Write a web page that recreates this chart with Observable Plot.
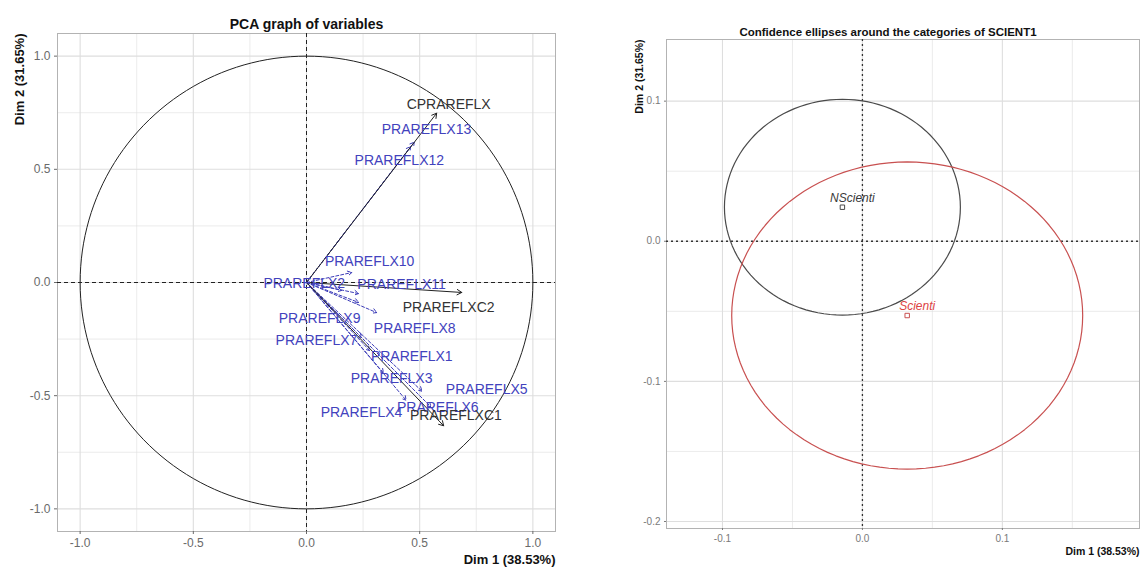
<!DOCTYPE html>
<html><head><meta charset="utf-8">
<script src="https://cdn.jsdelivr.net/npm/d3@7"></script>
<script src="https://cdn.jsdelivr.net/npm/@observablehq/plot@0.6"></script>
<style>
body{margin:0;background:#fff;}
#wrap{position:relative;width:1142px;height:569px;font-family:"Liberation Sans",Arial,sans-serif;overflow:hidden;}
#left{position:absolute;left:0;top:0;}
#right{position:absolute;left:580px;top:0;}
</style></head><body><div id="wrap"><div id="left"></div><div id="right"></div></div>
<script>
// ---------- Left panel: PCA graph of variables ----------
const activeVars = ["CPRAREFLX", "PRAREFLXC2", "PRAREFLXC1"];
const activeX = [0.575, 0.686, 0.606];
const activeY = [0.748, -0.044, -0.633];
const activeLabelX = [0.628, 0.628, 0.66];
const activeLabelY = [0.788, -0.111, -0.588];

const supVars = ["PRAREFLX1", "PRAREFLX2", "PRAREFLX3", "PRAREFLX4", "PRAREFLX5", "PRAREFLX6", "PRAREFLX7",
  "PRAREFLX8", "PRAREFLX9", "PRAREFLX10", "PRAREFLX11", "PRAREFLX12", "PRAREFLX13"];
const supX = [0.279, 0.155, 0.34, 0.44, 0.51, 0.55, 0.243, 0.31, 0.23, 0.2, 0.23, 0.46, 0.476];
const supY = [-0.301, -0.035, -0.40, -0.52, -0.48, -0.55, -0.243, -0.133, -0.088, 0.044, -0.049, 0.60, 0.62];
const supLabelX = [0.465, -0.01, 0.376, 0.243, 0.796, 0.58, 0.044, 0.478, 0.058, 0.279, 0.42, 0.41, 0.53];
const supLabelY = [-0.327, -0.005, -0.425, -0.575, -0.473, -0.552, -0.257, -0.204, -0.159, 0.093, -0.009, 0.54, 0.677];

const leftMajor = [-1, -0.5, 0, 0.5, 1];
const leftMinor = [-0.75, -0.25, 0.25, 0.75];

// ---------- Right panel: confidence ellipses ----------
const cats = ["NScienti", "Scienti"];
const catX = [-0.0143, 0.032];
const catY = [0.0243, -0.053];
const ellRx = [0.0843, 0.1254];
const ellRy = [0.077, 0.1096];
const catLineColors = ["#4a4a4a", "#c85050"];
const catTextColors = ["#3a3a3a", "#dd4444"];

const rightXMajor = [-0.1, 0, 0.1];
const rightXMinor = [-0.05, 0.05, 0.15];
const rightYMajor = [-0.2, -0.1, 0, 0.1];
const rightYMinor = [-0.15, -0.05, 0.05];

const FONT = "Liberation Sans, Arial, sans-serif";
const GRID = "#dedede";
const fmt = d => d.toFixed(1);

const active = activeVars.map((name, i) => ({name, x: activeX[i], y: activeY[i], lx: activeLabelX[i], ly: activeLabelY[i]}));
const sup = supVars.map((name, i) => ({name, x: supX[i], y: supY[i], lx: supLabelX[i], ly: supLabelY[i]}));
const circle = d3.range(0, 361, 2).map(a => ({x: Math.cos(a * Math.PI / 180), y: Math.sin(a * Math.PI / 180)}));

const left = Plot.plot({
  width: 580, height: 569,
  marginLeft: 57, marginRight: 25, marginTop: 33, marginBottom: 38,
  x: {domain: [-1.1, 1.1]},
  y: {domain: [-1.1, 1.1]},
  style: {fontFamily: FONT, background: "white", overflow: "visible"},
  marks: [
    Plot.gridX(leftMinor, {stroke: GRID, strokeOpacity: 1, strokeWidth: 0.6}),
    Plot.gridY(leftMinor, {stroke: GRID, strokeOpacity: 1, strokeWidth: 0.6}),
    Plot.gridX(leftMajor, {stroke: GRID, strokeOpacity: 1, strokeWidth: 1.1}),
    Plot.gridY(leftMajor, {stroke: GRID, strokeOpacity: 1, strokeWidth: 1.1}),
    Plot.frame({stroke: "#b3b3b3"}),
    Plot.axisX(leftMajor, {tickFormat: fmt, tickSize: 3, tickPadding: 4, fontSize: 12, color: "#6a6a6a", label: null}),
    Plot.axisY(leftMajor, {tickFormat: fmt, tickSize: 3, tickPadding: 4, fontSize: 12, color: "#6a6a6a", label: null}),
    Plot.ruleX([0], {stroke: "#222", strokeDasharray: "4,3", strokeWidth: 1}),
    Plot.ruleY([0], {stroke: "#222", strokeDasharray: "4,3", strokeWidth: 1}),
    Plot.line(circle, {x: "x", y: "y", stroke: "#222", strokeWidth: 1}),
    Plot.arrow(sup, {x1: () => 0, y1: () => 0, x2: "x", y2: "y", stroke: "#3c3cb8", strokeDasharray: "3,2", strokeWidth: 1, headLength: 7}),
    Plot.arrow(active, {x1: () => 0, y1: () => 0, x2: "x", y2: "y", stroke: "#222", strokeWidth: 1, headLength: 8}),
    Plot.text(sup, {x: "lx", y: "ly", text: "name", fill: "#4242bd", fontSize: 14}),
    Plot.text(active, {x: "lx", y: "ly", text: "name", fill: "#333", fontSize: 14}),
    Plot.text(["PCA graph of variables"], {frameAnchor: "top", dy: -14, fontWeight: "bold", fontSize: 14, fill: "#111"}),
    Plot.text(["Dim 1 (38.53%)"], {frameAnchor: "bottom-right", dy: 32, textAnchor: "end", fontWeight: "bold", fontSize: 13, fill: "#111"}),
    Plot.text(["Dim 2 (31.65%)"], {frameAnchor: "top-left", dx: -43, rotate: -90, textAnchor: "end", fontWeight: "bold", fontSize: 13, fill: "#111"})
  ]
});
document.getElementById("left").appendChild(left);

const catRows = cats.map((cat, i) => ({cat, x: catX[i], y: catY[i], lc: catLineColors[i], tc: catTextColors[i]}));
const ellipsePts = catRows.flatMap((c, i) => d3.range(0, 361, 3).map(a => ({
  cat: c.cat, lc: c.lc,
  x: catX[i] + ellRx[i] * Math.cos(a * Math.PI / 180),
  y: catY[i] + ellRy[i] * Math.sin(a * Math.PI / 180)
})));

const right = Plot.plot({
  width: 562, height: 569,
  marginLeft: 86, marginRight: 3, marginTop: 39, marginBottom: 41,
  x: {domain: [-0.140, 0.198]},
  y: {domain: [-0.205, 0.144]},
  style: {fontFamily: FONT, background: "white", overflow: "visible"},
  marks: [
    Plot.gridX(rightXMinor, {stroke: GRID, strokeOpacity: 1, strokeWidth: 0.6}),
    Plot.gridY(rightYMinor, {stroke: GRID, strokeOpacity: 1, strokeWidth: 0.6}),
    Plot.gridX(rightXMajor, {stroke: GRID, strokeOpacity: 1, strokeWidth: 1.1}),
    Plot.gridY(rightYMajor, {stroke: GRID, strokeOpacity: 1, strokeWidth: 1.1}),
    Plot.frame({stroke: "#b3b3b3"}),
    Plot.axisX(rightXMajor, {tickFormat: fmt, tickSize: 2, tickPadding: 4, fontSize: 10, color: "#7a7a7a", label: null}),
    Plot.axisY(rightYMajor, {tickFormat: fmt, tickSize: 2, tickPadding: 4, fontSize: 10, color: "#7a7a7a", label: null}),
    Plot.ruleX([0], {stroke: "#333", strokeDasharray: "2,3", strokeWidth: 1.3}),
    Plot.ruleY([0], {stroke: "#333", strokeDasharray: "2,3", strokeWidth: 1.3}),
    Plot.line(ellipsePts, {x: "x", y: "y", z: "cat", stroke: d => d.lc, strokeWidth: 1.2}),
    Plot.dot(catRows, {x: "x", y: "y", symbol: "square", r: 2.5, stroke: d => d.lc, fill: "none", strokeWidth: 1}),
    Plot.text(catRows, {x: "x", y: "y", text: "cat", dx: 10, dy: -9, fontStyle: "italic", fontSize: 12, fill: d => d.tc}),
    Plot.text(["Confidence ellipses around the categories of SCIENT1"], {frameAnchor: "top", dx: -15, dy: -12, fontWeight: "bold", fontSize: 11.5, fill: "#111"}),
    Plot.text(["Dim 1 (38.53%)"], {frameAnchor: "bottom-right", dy: 26, textAnchor: "end", fontWeight: "bold", fontSize: 10.5, fill: "#111"}),
    Plot.text(["Dim 2 (31.65%)"], {frameAnchor: "top-left", dx: -31, rotate: -90, textAnchor: "end", fontWeight: "bold", fontSize: 10.5, fill: "#111"})
  ]
});
document.getElementById("right").appendChild(right);
</script>
</body></html>
